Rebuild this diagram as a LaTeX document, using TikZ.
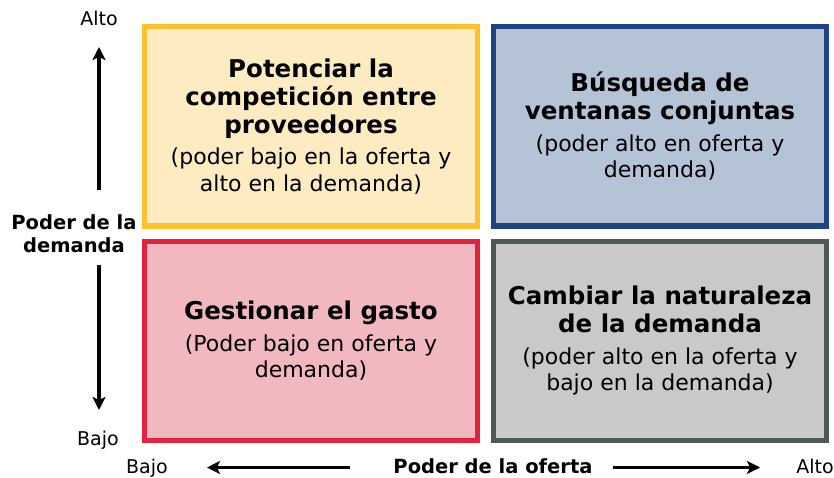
\documentclass[tikz,border=0pt]{standalone}
\usepackage{fontspec}
\setmainfont{DejaVu Sans}
\usetikzlibrary{arrows.meta, positioning}

\definecolor{amarillo}{HTML}{FDC12F}
\definecolor{amarilloclaro}{HTML}{FEEBC1}
\definecolor{azul}{HTML}{1F4483}
\definecolor{azulclaro}{HTML}{B5C3D6}
\definecolor{rojo}{HTML}{E2223E}
\definecolor{rojoclaro}{HTML}{F2B8C0}
\definecolor{gris}{HTML}{4F5A56}
\definecolor{grisclaro}{HTML}{C8C9C8}

\newcommand{\titulo}[1]{{\fontsize{24.5}{28}\selectfont\bfseries #1\par}\vspace{5pt}}
\newcommand{\nota}[1]{{\fontsize{22}{26.5}\selectfont #1\par}}

\tikzset{
  cuadro/.style={draw=#1, fill=#1claro, line width=5pt, minimum width=333pt,
    minimum height=199.5pt, text width=326pt, align=flush center, inner sep=0pt},
  eje/.style={-{Stealth[length=13pt, width=13pt, inset=3pt]}, line width=3.5pt},
  etiqueta/.style={font=\fontsize{19}{23}\selectfont, anchor=base},
  etiquetab/.style={font=\fontsize{19.5}{23}\selectfont\bfseries, align=center},
}

\begin{document}
\begin{tikzpicture}[x=1pt, y=1pt, >=Stealth]
  \useasboundingbox (0,0) rectangle (834,477);

  % cuadrantes
  \node[cuadro=amarillo] (potenciar) at (311,350.75)
    {\titulo{Potenciar la\\competición entre\\proveedores}\nota{(poder bajo en la oferta y\\alto en la demanda)}};
  \node[cuadro=azul, right=11pt of potenciar] (busqueda)
    {\titulo{Búsqueda de\\ventanas conjuntas}\nota{(poder alto en oferta y\\demanda)}};
  \node[cuadro=rojo, below=10pt of potenciar] (gestionar)
    {\titulo{Gestionar el gasto}\nota{(Poder bajo en oferta y\\demanda)}};
  \node[cuadro=gris, below=10pt of busqueda] (cambiar)
    {\titulo{Cambiar la naturaleza\\de la demanda}\nota{(poder alto en la oferta y\\bajo en la demanda)}};

  % eje vertical
  \node[etiqueta] (alto-v) at (99,451) {Alto};
  \node[etiqueta] (bajo-v) at (98,32) {Bajo};
  \node[etiquetab] (demanda) at (74,243) {Poder de la\\demanda};
  \coordinate (v-arriba-ini) at (99,287);
  \coordinate (v-arriba-fin) at (99,430);
  \coordinate (v-abajo-ini) at (99,212);
  \coordinate (v-abajo-fin) at (99,67);
  \draw[eje] (v-arriba-ini) -- (v-arriba-fin);
  \draw[eje] (v-abajo-ini) -- (v-abajo-fin);

  % eje horizontal
  \node[etiqueta] (bajo-h) at (147,4) {Bajo};
  \node[etiquetab, anchor=base] (oferta) at (493,4) {Poder de la oferta};
  \node[etiqueta] (alto-h) at (815,4) {Alto};
  \coordinate (h-izq-ini) at (350,9.5);
  \coordinate (h-izq-fin) at (207,9.5);
  \coordinate (h-der-ini) at (613,9.5);
  \coordinate (h-der-fin) at (760,9.5);
  \draw[eje] (h-izq-ini) -- (h-izq-fin);
  \draw[eje] (h-der-ini) -- (h-der-fin);
\end{tikzpicture}
\end{document}
